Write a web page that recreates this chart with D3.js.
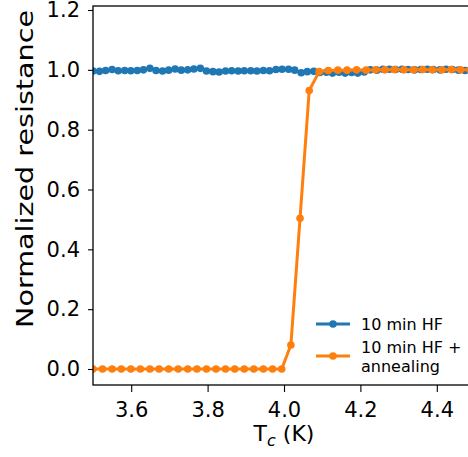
<!DOCTYPE html>
<html>
<head>
<meta charset="utf-8">
<script src="https://cdn.jsdelivr.net/npm/d3@7"></script>
<style>
  body { margin: 0; background: #fff; }
  svg { display: block; font-family: "DejaVu Sans", sans-serif; }
</style>
</head>
<body>
<svg width="468" height="457"></svg>
<script>
// 10 min HF
let hfT = [3.500, 3.517, 3.533, 3.550, 3.566, 3.583, 3.599, 3.616, 3.632, 3.649,
  3.665, 3.682, 3.698, 3.715, 3.731, 3.748, 3.764, 3.781, 3.797, 3.814,
  3.830, 3.847, 3.863, 3.880, 3.896, 3.913, 3.929, 3.946, 3.962, 3.979,
  3.995, 4.012, 4.028, 4.045, 4.061, 4.078, 4.094, 4.111, 4.127, 4.144,
  4.160, 4.177, 4.193, 4.210, 4.226, 4.243, 4.259, 4.276, 4.292, 4.309,
  4.325, 4.342, 4.358, 4.375, 4.391, 4.408, 4.424, 4.441, 4.457, 4.474, 4.490];
let hfR = [0.996, 0.995, 0.998, 1.001, 0.997, 0.998, 0.997, 0.998, 1.000, 1.005,
  0.998, 0.996, 0.999, 1.003, 0.999, 1.000, 1.003, 1.005, 0.996, 0.994,
  0.993, 0.996, 0.997, 0.996, 0.997, 0.997, 0.996, 0.998, 0.997, 1.001,
  1.002, 1.002, 0.999, 0.990, 0.994, 0.995, 0.991, 0.992, 0.989, 0.992,
  0.989, 0.991, 0.989, 0.993, 1.000, 0.999, 1.002, 1.002, 1.001, 1.002,
  1.001, 1.000, 1.001, 1.002, 1.001, 1.000, 1.002, 1.001, 0.999, 0.998, 0.999];

// 10 min HF + annealing
let annT = [3.500, 3.525, 3.550, 3.574, 3.599, 3.624, 3.649, 3.673, 3.698, 3.723,
  3.748, 3.772, 3.797, 3.822, 3.847, 3.871, 3.896, 3.921, 3.946, 3.970,
  3.994, 4.018, 4.042, 4.066, 4.092, 4.116, 4.141, 4.165, 4.190, 4.215,
  4.240, 4.264, 4.289, 4.314, 4.339, 4.363, 4.388, 4.413, 4.438, 4.462, 4.487];
let annR = [0, 0, 0, 0, 0, 0, 0, 0, 0, 0,
  0, 0, 0, 0, 0, 0, 0, 0, 0, 0,
  0, 0.080, 0.504, 0.931, 0.994, 0.998, 0.999, 0.999, 1.000, 0.999,
  1.000, 1.000, 1.001, 1.000, 1.000, 1.001, 1.000, 1.000, 1.001, 1.000, 1.000];

let xTicks = [3.6, 3.8, 4.0, 4.2, 4.4];
let yTicks = [0.0, 0.2, 0.4, 0.6, 0.8, 1.0, 1.2];

let seriesNames = ['10 min HF', '10 min HF +\nannealing'];
let colors = ['#1f77b4', '#ff7f0e'];

let svg = d3.select('svg');
let mLeft = 93, mRight = 475, mTop = 6, mBottom = 385;

let x = d3.scaleLinear().domain([3.5, 4.5]).range([mLeft, mRight]);
let y = d3.scaleLinear().domain([0, 1.2]).range([369, 10]);

svg.append('clipPath').attr('id', 'plot')
  .append('rect')
  .attr('x', mLeft).attr('y', mTop)
  .attr('width', mRight - mLeft).attr('height', mBottom - mTop);

let plot = svg.append('g').attr('clip-path', 'url(#plot)');

let line = d3.line().x(d => x(d[0])).y(d => y(d[1]));

let series = [d3.zip(hfT, hfR), d3.zip(annT, annR)];

series.forEach(function(data, i) {
  plot.append('path')
    .datum(data)
    .attr('d', line)
    .attr('fill', 'none')
    .attr('stroke', colors[i])
    .attr('stroke-width', 3)
    .attr('stroke-linejoin', 'round');

  plot.selectAll('.dot' + i)
    .data(data)
    .enter().append('circle')
      .attr('class', 'dot' + i)
      .attr('cx', d => x(d[0]))
      .attr('cy', d => y(d[1]))
      .attr('r', 3.8)
      .attr('fill', colors[i]);
});

// axes
let xAxis = svg.append('g')
  .attr('transform', 'translate(0,' + mBottom + ')')
  .call(d3.axisBottom(x).tickValues(xTicks).tickFormat(d3.format('.1f')).tickSize(7).tickPadding(10));
let yAxis = svg.append('g')
  .attr('transform', 'translate(' + mLeft + ',0)')
  .call(d3.axisLeft(y).tickValues(yTicks).tickFormat(d3.format('.1f')).tickSize(5).tickPadding(8));

[xAxis, yAxis].forEach(function(ax) {
  ax.select('.domain').remove();
  ax.selectAll('line').attr('stroke', '#000').attr('stroke-width', 1.1);
  ax.selectAll('text')
    .attr('fill', '#000')
    .style('font-family', '"DejaVu Sans", sans-serif')
    .style('font-size', '21px');
});

// spines
svg.append('rect')
  .attr('x', mLeft).attr('y', mTop)
  .attr('width', mRight - mLeft).attr('height', mBottom - mTop)
  .attr('fill', 'none').attr('stroke', '#000').attr('stroke-width', 1.3);

// axis labels
let xLabel = svg.append('text')
  .attr('x', 284).attr('y', 441)
  .attr('text-anchor', 'middle')
  .style('font-size', '22px');
xLabel.append('tspan').text('T');
xLabel.append('tspan').attr('dy', 5).style('font-size', '16px').style('font-style', 'italic').text('c');
xLabel.append('tspan').attr('dy', -5).text(' (K)');

svg.append('text')
  .attr('transform', 'translate(33,169) rotate(-90)')
  .attr('text-anchor', 'middle')
  .attr('textLength', 318)
  .attr('lengthAdjust', 'spacingAndGlyphs')
  .style('font-size', '23px')
  .text('Normalized resistance');

// legend
let legend = svg.append('g');
let legendY = [324, 356];
seriesNames.forEach(function(name, i) {
  legend.append('line')
    .attr('x1', 316).attr('x2', 350)
    .attr('y1', legendY[i]).attr('y2', legendY[i])
    .attr('stroke', colors[i]).attr('stroke-width', 3);
  legend.append('circle')
    .attr('cx', 333).attr('cy', legendY[i]).attr('r', 3.8)
    .attr('fill', colors[i]);
  let lines = name.split('\n');
  let t = legend.append('text')
    .attr('x', 361)
    .attr('y', legendY[i] + 6 - (lines.length - 1) * 9.5)
    .style('font-size', '16px');
  lines.forEach(function(s, j) {
    t.append('tspan').attr('x', 361).attr('dy', j ? 19 : 0).text(s);
  });
});
</script>
</body>
</html>
